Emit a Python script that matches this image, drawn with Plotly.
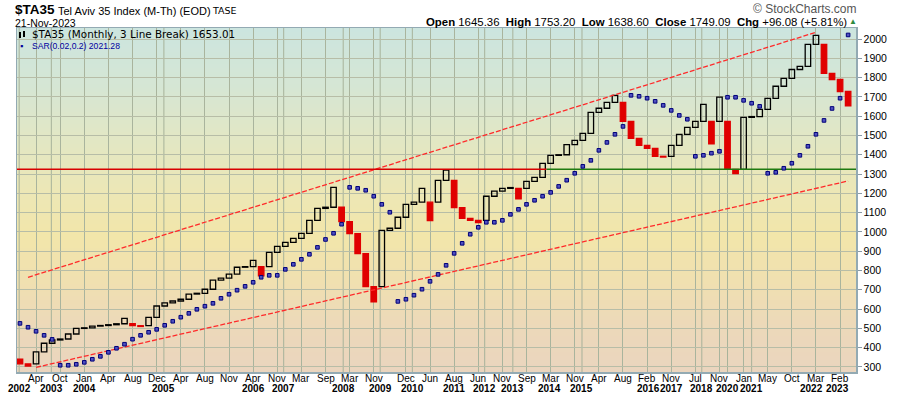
import plotly.graph_objects as go

# ---------------- data ----------------
bar_open = [341, 316, 316, 378, 423, 440, 445, 471, 500, 503,
            512, 515, 519, 524, 524, 514, 514, 557, 616, 632,
            642, 651, 678, 682, 703, 750, 761, 781, 817, 820,
            820, 820, 894, 925, 946, 967, 993, 1060, 1122, 1128,
            1128, 1053, 991, 888, 717, 717, 1008, 1019, 1076, 1143,
            1154, 1154, 1154, 1267, 1267, 1126, 1070, 1060, 1060, 1185,
            1211, 1226, 1226, 1226, 1262, 1283, 1355, 1397, 1400, 1453,
            1475, 1511, 1620, 1641, 1672, 1672, 1573, 1485, 1449, 1433,
            1392, 1392, 1449, 1506, 1542, 1573, 1573, 1573, 1573, 1324,
            1324, 1594, 1598, 1635, 1692, 1755, 1796, 1842, 1858, 1972,
            1972, 1822, 1790, 1728]
bar_close = [316, 305, 378, 423, 440, 445, 471, 500, 503, 512,
             515, 519, 524, 552, 514, 510, 557, 616, 632, 642,
             651, 678, 682, 703, 750, 761, 781, 817, 820, 853,
             773, 894, 925, 946, 967, 993, 1060, 1122, 1128, 1231,
             1053, 991, 888, 717, 638, 1008, 1019, 1076, 1143, 1154,
             1226, 1059, 1267, 1320, 1126, 1070, 1060, 1048, 1185, 1211,
             1226, 1230, 1172, 1262, 1283, 1355, 1397, 1400, 1453, 1475,
             1511, 1620, 1641, 1672, 1708, 1573, 1485, 1449, 1433, 1392,
             1388, 1449, 1506, 1542, 1573, 1661, 1457, 1699, 1324, 1302,
             1594, 1598, 1635, 1692, 1755, 1796, 1842, 1858, 1972, 2019,
             1822, 1790, 1728, 1653]
sar_values = [526, 506, 485, 464, 443, 309, 309, 314, 324, 340,
              355, 376, 397, 418, 444, 464, 480, 495, 516, 537,
              558, 578, 599, 615, 630, 656, 677, 698, 718, 739,
              765, 775, 775, 806, 832, 858, 884, 920, 961, 993,
              1040, 1231, 1226, 1216, 1185, 1143, 1102, 640, 651, 672,
              703, 744, 780, 827, 889, 941, 988, 1024, 1050, 1050,
              1060, 1091, 1117, 1143, 1164, 1185, 1205, 1236, 1268, 1304,
              1340, 1371, 1423, 1464, 1506, 1547, 1708, 1703, 1693, 1677,
              1656, 1630, 1604, 1584, 1392, 1397, 1408, 1418, 1698, 1698,
              1682, 1667, 1651, 1304, 1309, 1330, 1356, 1397, 1444, 1506,
              1578, 1640, 1693, 2021]

month_labels = ["Apr", "Oct", "Jan", "Apr", "Aug", "Dec", "Apr", "Aug", "Nov", "Apr",
                "Nov", "Mar", "Sep", "Mar", "Nov", "Dec", "Jun", "Aug", "Jun", "Nov",
                "Sep", "Mar", "Nov", "Apr", "Aug", "Feb", "Nov", "Jul", "Nov", "Jan",
                "May", "Oct", "Mar", "Feb"]
month_pos = [2, 5, 8, 11, 14, 17, 20, 23, 26, 29,
             32, 35, 38, 41, 44, 48, 51, 54, 57, 60,
             63, 66, 69, 72, 75, 78, 81, 84, 87, 90,
             93, 96, 99, 102]
year_labels = ["2002", "2003", "2004", "2005", "2006", "2007", "2008", "2009", "2010", "2011",
               "2012", "2013", "2014", "2015", "2016", "2017", "2018", "2020", "2021", "2022", "2023"]
year_pos = [-0.1, 3.9, 8.0, 17.9, 29.1, 32.8, 40.2, 44.8, 48.8, 54.0,
            57.8, 61.3, 65.9, 69.9, 78.2, 81.0, 84.8, 88.0, 91.0, 98.4, 101.7]

upper_trend_x = [1.0, 99.1]
upper_trend_y = [765, 2036]
lower_trend_x = [2.0, 103.0]
lower_trend_y = [298, 1264]
hline_level = 1325
hline_split = 65.5

y_ticks = list(range(300, 2001, 100))

# ---------------- layout geometry ----------------
W, H = 900, 396
PL, PR, PT, PB = 17, 856, 28, 372
X0, X1 = -0.37, 103.98
Y0, Y1 = 274, 2057


def px(x):
    return (x - PL) / (PR - PL)


def py(y):
    return (PB - y) / (PB - PT)


n = len(bar_open)
xs = list(range(n))
up = [c >= o for o, c in zip(bar_open, bar_close)]
RED = "#e00000"

fig = go.Figure()

# line-break bars
fig.add_trace(go.Bar(
    x=xs,
    base=[min(o, c) for o, c in zip(bar_open, bar_close)],
    y=[abs(c - o) for o, c in zip(bar_open, bar_close)],
    width=0.68,
    marker=dict(
        color=["rgba(0,0,0,0)" if u else RED for u in up],
        line=dict(color=["#000000" if u else RED for u in up], width=1.3),
    ),
    hoverinfo="skip",
    showlegend=False,
))

# trend lines
for tx, ty in ((upper_trend_x, upper_trend_y), (lower_trend_x, lower_trend_y)):
    fig.add_trace(go.Scatter(x=tx, y=ty, mode="lines",
                             line=dict(color="#ff2a2a", width=1.3, dash="5px,2px"),
                             showlegend=False, hoverinfo="skip"))

# horizontal level line (red then green)
fig.add_trace(go.Scatter(x=[X0, hline_split], y=[hline_level, hline_level], mode="lines",
                         line=dict(color="#d80000", width=1.3),
                         showlegend=False, hoverinfo="skip"))
fig.add_trace(go.Scatter(x=[hline_split, X1], y=[hline_level, hline_level], mode="lines",
                         line=dict(color="#1f7a10", width=1.3),
                         showlegend=False, hoverinfo="skip"))

# parabolic SAR
fig.add_trace(go.Scatter(x=xs, y=sar_values, mode="markers",
                         marker=dict(symbol="square", size=3.6, color="#5050c0",
                                     line=dict(color="#00007a", width=1)),
                         showlegend=False, hoverinfo="skip"))

# gradient background bands
stops = [(28, (204, 229, 223)), (90, (214, 230, 211)), (140, (226, 231, 196)),
         (190, (236, 231, 182)), (235, (242, 230, 170)), (280, (240, 224, 176)),
         (330, (236, 216, 186)), (372, (234, 213, 190))]


def col_at(yv):
    for (ya, ca), (yb, cb) in zip(stops[:-1], stops[1:]):
        if ya <= yv <= yb:
            t = (yv - ya) / (yb - ya)
            return tuple(int(round(a + (b - a) * t)) for a, b in zip(ca, cb))
    return stops[-1][1]


shapes = []
band = 4
yy = PT
while yy < PB:
    y2 = min(yy + band, PB)
    c = col_at((yy + y2) / 2)
    shapes.append(dict(type="rect", xref="paper", yref="paper", layer="below",
                       x0=0, x1=1, y0=py(y2), y1=py(yy),
                       fillcolor="rgb(%d,%d,%d)" % c, line=dict(width=0)))
    yy = y2

# extra vertical grid lines at year starts
for yp in year_pos:
    if min(abs(yp - m) for m in month_pos) > 0.6 and X0 < yp < X1:
        shapes.append(dict(type="line", xref="x", yref="paper", layer="below",
                           x0=yp, x1=yp, y0=0, y1=1,
                           line=dict(color="#a7b29a", width=1)))

# legend icon
shapes.append(dict(type="rect", xref="paper", yref="paper", layer="above",
                   x0=px(19), x1=px(21), y0=py(38), y1=py(32),
                   fillcolor="#000", line=dict(width=0)))
shapes.append(dict(type="rect", xref="paper", yref="paper", layer="above",
                   x0=px(23), x1=px(25), y0=py(37), y1=py(31),
                   fillcolor="#000", line=dict(width=0)))

annotations = []
FONT = "Liberation Sans, Arial, sans-serif"
VFONT = "DejaVu Sans, Verdana, sans-serif"


def ann(text, x, y, size, xanchor="left", color="#000", family=FONT, yanchor="middle"):
    annotations.append(dict(text=text, x=px(x), y=py(y), xref="paper", yref="paper",
                            xanchor=xanchor, yanchor=yanchor, showarrow=False,
                            borderpad=0,
                            font=dict(size=size, color=color, family=family)))


ann("<b>$TA35</b>", 14, 10, 13.5)
ann("Tel Aviv 35 Index (M-Th) (EOD)", 57, 11, 11)
ann("TASE", 211, 11, 9.5, family=VFONT)
ann("21-Nov-2023", 14, 23, 10.5)
ann("© StockCharts.com", 858, 9, 12, xanchor="right", color="#555")
ann("<b>Open</b> 1645.36  <b>High</b> 1753.20  <b>Low</b> 1638.60  <b>Close</b> 1749.09  "
    "<b>Chg</b> +96.08 (+5.81%)", 848, 22, 11.4, xanchor="right")
ann("▲", 853, 22, 8, xanchor="center", color="#2e8b3e")
ann("$TA35 (Monthly, 3 Line Break) 1653.01", 31, 34, 10.4, family=VFONT)
ann("▪", 19, 46, 9, color="#00009a")
ann("SAR(0.02,0.2) 2021.28", 31, 46, 8.6, color="#0000a0")

# x-axis month and year labels
for lab, pos in zip(month_labels, month_pos):
    annotations.append(dict(text=lab, x=pos, xref="x", y=py(378), yref="paper",
                            xanchor="center", yanchor="middle", showarrow=False,
                            borderpad=0,
                            font=dict(size=10, color="#000", family=FONT)))
for lab, pos in zip(year_labels, year_pos):
    annotations.append(dict(text="<b>%s</b>" % lab, x=pos, xref="x", y=py(388), yref="paper",
                            xanchor="center", yanchor="middle", showarrow=False,
                            borderpad=0,
                            font=dict(size=10, color="#000", family=FONT)))

fig.update_layout(
    width=W, height=H,
    margin=dict(l=PL, r=W - PR, t=PT, b=H - PB, pad=0),
    paper_bgcolor="white",
    plot_bgcolor="rgb(236,225,190)",
    bargap=0,
    shapes=shapes,
    annotations=annotations,
    showlegend=False,
    xaxis=dict(range=[X0, X1], tickmode="array", tickvals=month_pos,
               showticklabels=False,
               showgrid=True, gridcolor="#a9b49d", gridwidth=1, zeroline=False,
               showline=True, mirror=True, linecolor="#93aab3", linewidth=1.5,
               ticks="", ticklen=0),
    yaxis=dict(range=[Y0, Y1], side="right", tickmode="array", tickvals=y_ticks,
               tickfont=dict(size=10.5, family=FONT, color="#000"),
               showgrid=True, gridcolor="#b7bda7", gridwidth=1, zeroline=False,
               showline=True, mirror=True, linecolor="#93aab3", linewidth=1.5,
               ticks="outside", ticklen=4, tickcolor="#8a9aa5"),
)

fig.write_html("out.html",
               config={"displayModeBar": False, "staticPlot": True},
               post_script="document.body.style.margin='0';document.body.style.padding='0';"
                           "document.documentElement.style.overflow='hidden';")
